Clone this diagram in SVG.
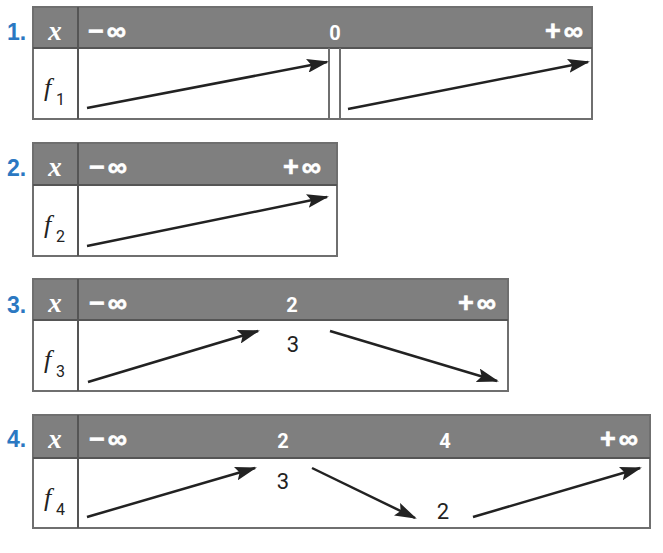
<svg xmlns="http://www.w3.org/2000/svg" width="663" height="553" viewBox="0 0 663 553">
<style>
.hdr{fill:#7f7f7f;stroke:none}
.box{fill:none;stroke:#6f6f6f;stroke-width:2}
.div{stroke:#555;stroke-width:2}
.bodyline{stroke:#6f6f6f;stroke-width:2}
.num{font-family:"Liberation Sans",sans-serif;font-weight:bold;font-size:23px;fill:#2b78c2}
.hx{font-family:"Liberation Serif",serif;font-style:italic;font-weight:bold;font-size:27px;fill:#fff;text-anchor:middle}
.hv{font-family:"Roboto","Liberation Sans",sans-serif;font-weight:bold;font-size:20px;fill:#fff}
.inf{font-family:"Liberation Sans",sans-serif;font-weight:bold;font-size:27px;fill:#fff;stroke:#fff;stroke-width:0.6;letter-spacing:3px}
.f{font-family:"Liberation Serif",serif;font-style:italic;font-size:26px;fill:#222}
.sub{font-family:"Roboto","Liberation Sans",sans-serif;font-size:16px;fill:#222}
.val{font-family:"Roboto","Liberation Sans",sans-serif;font-size:22px;fill:#222;text-anchor:middle}
.arr{stroke:#222;stroke-width:2.5;fill:none;marker-end:url(#ah)}
</style>
<defs>
<marker id="ah" viewBox="0 0 22 14" markerWidth="22" markerHeight="14" refX="20" refY="7" orient="auto" markerUnits="userSpaceOnUse">
<path d="M0,0 L22,7 L0,14 L4,7 z" fill="#222"/>
</marker>
</defs>
<rect width="663" height="553" fill="#fff"/>

<g id="table1">
<rect class="hdr" x="33" y="7" width="559" height="41"/>
<rect class="box" x="33" y="7" width="559" height="112"/>
<line class="div" x1="33" y1="48" x2="592" y2="48"/>
<line class="div" x1="78" y1="7" x2="78" y2="119"/>
<line class="bodyline" x1="329" y1="48" x2="329" y2="119"/>
<line class="bodyline" x1="340" y1="48" x2="340" y2="119"/>
<text class="num" x="7" y="40">1.</text>
<text class="hx" x="55" y="40">x</text>
<text class="inf" x="88" y="40">−∞</text>
<text class="hv" x="335" y="40" text-anchor="middle">0</text>
<text class="inf" x="586" y="40" text-anchor="end">+∞</text>
<text class="f" x="44" y="96">f</text>
<text class="sub" x="56" y="105">1</text>
</g>

<g id="table2">
<rect class="hdr" x="33" y="143" width="304" height="42"/>
<rect class="box" x="33" y="143" width="304" height="113"/>
<line class="div" x1="33" y1="185" x2="337" y2="185"/>
<line class="div" x1="78" y1="143" x2="78" y2="256"/>
<text class="num" x="7" y="176">2.</text>
<text class="hx" x="55" y="176">x</text>
<text class="inf" x="89" y="176">−∞</text>
<text class="inf" x="324" y="176" text-anchor="end">+∞</text>
<text class="f" x="44" y="233">f</text>
<text class="sub" x="56" y="242">2</text>
</g>

<g id="table3">
<rect class="hdr" x="33" y="279" width="475" height="41"/>
<rect class="box" x="33" y="279" width="475" height="112"/>
<line class="div" x1="33" y1="320" x2="508" y2="320"/>
<line class="div" x1="78" y1="279" x2="78" y2="391"/>
<text class="num" x="7" y="313">3.</text>
<text class="hx" x="55" y="312">x</text>
<text class="inf" x="89" y="312">−∞</text>
<text class="hv" x="292" y="312" text-anchor="middle">2</text>
<text class="inf" x="499" y="312" text-anchor="end">+∞</text>
<text class="f" x="44" y="368">f</text>
<text class="sub" x="56" y="377">3</text>
<text class="val" x="293" y="352">3</text>
</g>

<g id="table4">
<rect class="hdr" x="33" y="415" width="617" height="43"/>
<rect class="box" x="33" y="415" width="617" height="113"/>
<line class="div" x1="33" y1="458" x2="650" y2="458"/>
<line class="div" x1="78" y1="415" x2="78" y2="528"/>
<text class="num" x="7" y="447">4.</text>
<text class="hx" x="55" y="448">x</text>
<text class="inf" x="89" y="448">−∞</text>
<text class="hv" x="283" y="448" text-anchor="middle">2</text>
<text class="hv" x="445" y="448" text-anchor="middle">4</text>
<text class="inf" x="641" y="448" text-anchor="end">+∞</text>
<text class="f" x="44" y="506">f</text>
<text class="sub" x="56" y="515">4</text>
<text class="val" x="283" y="489">3</text>
<text class="val" x="443" y="519">2</text>
</g>

<g id="connectors">
<line class="arr" x1="87" y1="108" x2="327" y2="62"/>
<line class="arr" x1="348" y1="109" x2="588" y2="62"/>
<line class="arr" x1="87" y1="246" x2="327" y2="197"/>
<line class="arr" x1="88" y1="382" x2="258" y2="331"/>
<line class="arr" x1="330" y1="331" x2="497" y2="381"/>
<line class="arr" x1="87" y1="517" x2="255" y2="468"/>
<line class="arr" x1="312" y1="468" x2="415" y2="518"/>
<line class="arr" x1="473" y1="517" x2="640" y2="468"/>
</g>
</svg>
